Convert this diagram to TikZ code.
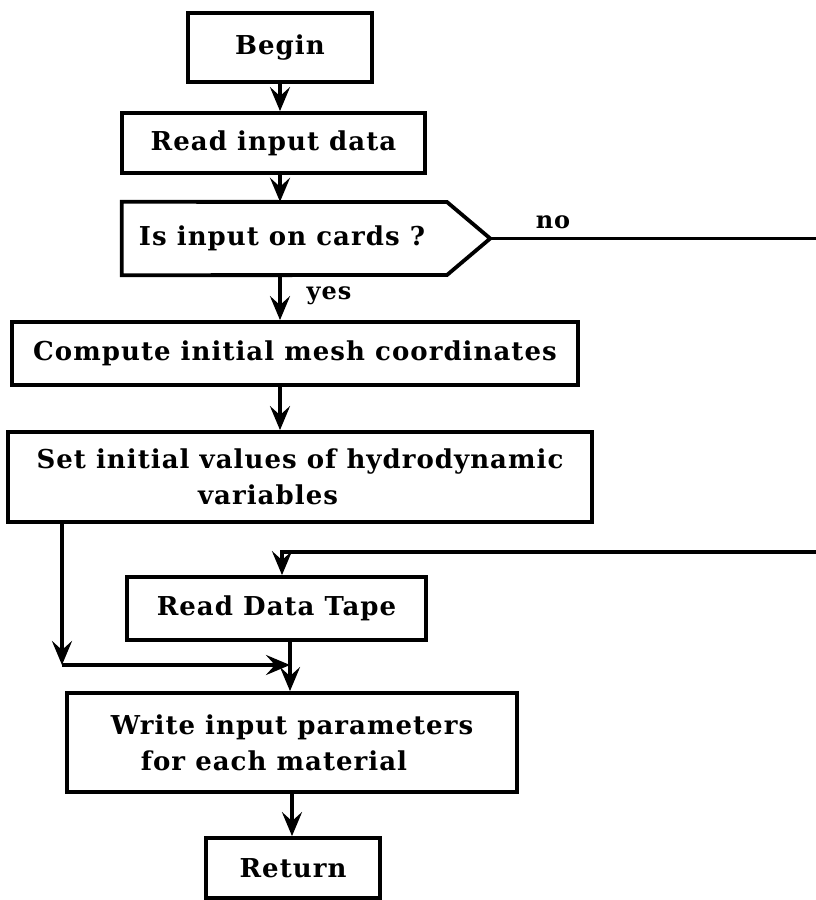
\documentclass[tikz,border=0pt]{standalone}
\usepackage{fontspec}
\setmainfont{DejaVu Serif}[LetterSpace=4]
\usetikzlibrary{arrows.meta}
\begin{document}
\begin{tikzpicture}[x=1pt,y=-1pt,
  txt/.style={font=\fontsize{26}{36}\selectfont\bfseries},
  box/.style={draw, line width=3.8pt, inner sep=0pt, align=center, txt},
  line/.style={line width=3.8pt},
  arr/.style={line width=3.8pt, -{Stealth[length=24pt,width=20pt,inset=9pt]}},
  lbl/.style={font=\fontsize{24}{28}\selectfont\bfseries, inner sep=0pt}]
\useasboundingbox (0,0) rectangle (816,900);
% column coordinates
\coordinate (colx) at (280,0);
\coordinate (rx) at (282,0);
\coordinate (mx) at (290,0);
\coordinate (wx) at (292,0);
\coordinate (lx) at (62,0);
% nodes
\node[box, minimum width=184pt, minimum height=69pt] (begin) at (280,47.5) {Begin};
\node[box, minimum width=303pt, minimum height=60pt] (read) at (273.5,143) {Read input data};
\node[minimum width=368pt, minimum height=73pt, inner sep=0pt] (dec) at (306,238.5) {};
\draw[line, line join=miter] (dec.north west) -- (447,202) -- (dec.east) -- (447,275) -- (dec.south west) -- cycle;
\node[txt, inner sep=0pt] (dectext) at (282,238.5) {Is input on cards ?};
\node[box, minimum width=566pt, minimum height=63pt] (comp) at (295,353.5) {Compute initial mesh coordinates};
\node[box, minimum width=584pt, minimum height=90pt] (set) at (300,477) {Set initial values of hydrodynamic\\variables\hspace*{64pt}};
\node[box, minimum width=299pt, minimum height=63pt] (rdt) at (276.5,608.5) {Read Data Tape};
\node[box, minimum width=450pt, minimum height=99pt] (write) at (292,742.5) {Write input parameters\\for each material\hspace*{36pt}};
\node[box, minimum width=174pt, minimum height=60pt] (ret) at (293,868) {Return};
% labels
\node[lbl] (yes) at (329,296) {yes};
\node[lbl] (no) at (553,222) {no};
% free ends
\coordinate (noend) at (816,238.5);
\coordinate (loopin) at (816,552);
\coordinate (corner) at (62,665);
\coordinate (merge) at (290,665);
% connectors
\draw[arr] (begin.south -| colx) -- (read.north -| colx);
\draw[arr] (read.south -| colx) -- (dec.north -| colx);
\draw[arr] (dec.south -| colx) -- (comp.north -| colx);
\draw[arr] (comp.south -| colx) -- (set.north -| colx);
\draw[line] (dec.east) -- (noend);
\draw[arr] (loopin) -| (rdt.north -| rx);
\draw[arr] (set.south -| lx) -- (corner);
\draw[arr] (corner) -- (merge);
\draw[arr] (rdt.south -| mx) -- (write.north -| mx);
\draw[arr] (write.south -| wx) -- (ret.north -| wx);
\end{tikzpicture}
\end{document}
